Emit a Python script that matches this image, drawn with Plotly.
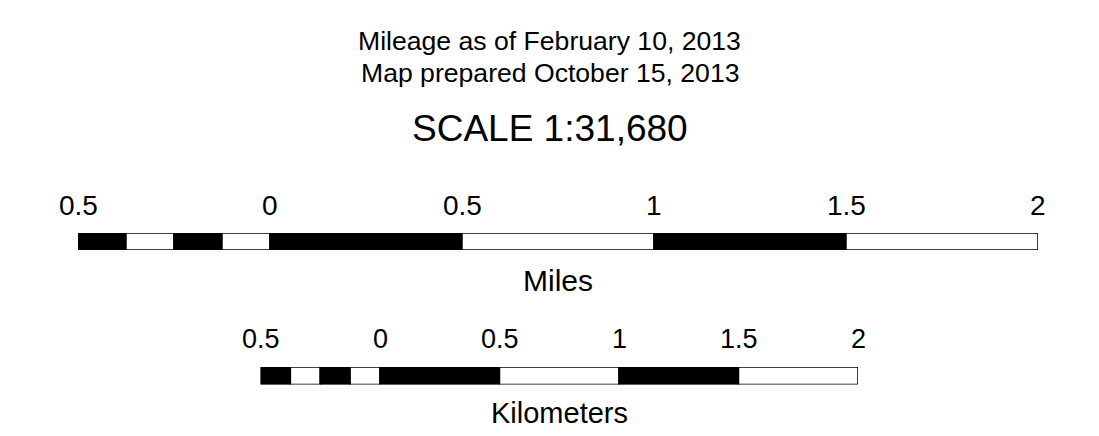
import plotly.graph_objects as go

# ---- data ----
mile_edges = [-0.5, -0.375, -0.25, -0.125, 0, 0.5, 1, 1.5, 2]
km_edges = [-0.5, -0.375, -0.25, -0.125, 0, 0.5, 1, 1.5, 2]
seg_colors = ["black", "white", "black", "white", "black", "white", "black", "white"]
tick_vals = [-0.5, 0, 0.5, 1, 1.5, 2]
tick_text = ["0.5", "0", "0.5", "1", "1.5", "2"]
title_lines = ["Mileage as of February 10, 2013", "Map prepared October 15, 2013"]
scale_text = "SCALE 1:31,680"
unit_names = ["Miles", "Kilometers"]

FONT = "Arial, Liberation Sans, Helvetica, sans-serif"
OFF = 8  # page body margin
W, H = 1099 - 2 * OFF, 436 - 2 * OFF


def px_x(p):
    return (p - OFF) / W


def py(p):
    return 1 - (p - OFF) / H


fig = go.Figure()

for edges, xa, ya in [(mile_edges, "x", "y"), (km_edges, "x2", "y2")]:
    starts = edges[:-1]
    widths = [b - a for a, b in zip(edges[:-1], edges[1:])]
    fig.add_trace(go.Bar(
        orientation="h", y=[0] * len(starts), x=widths, base=starts,
        width=1, marker=dict(color=seg_colors, line=dict(color="black", width=1.5)),
        xaxis=xa, yaxis=ya, showlegend=False, hoverinfo="skip",
    ))

fig.update_layout(
    width=W, height=H, margin=dict(l=0, r=0, t=0, b=0),
    paper_bgcolor="white", plot_bgcolor="white", barmode="overlay",
    xaxis=dict(domain=[px_x(78), px_x(1038)], range=[-0.5, 2], visible=False, anchor="y"),
    yaxis=dict(domain=[py(250), py(233)], range=[-0.5, 0.5], visible=False, anchor="x"),
    xaxis2=dict(domain=[px_x(260.5), px_x(858)], range=[-0.5, 2], visible=False, anchor="y2"),
    yaxis2=dict(domain=[py(384.5), py(367)], range=[-0.5, 0.5], visible=False, anchor="x2"),
)

ann = []
for v, t in zip(tick_vals, tick_text):
    ann.append(dict(x=v, xref="x", y=py(205), yref="paper", text=t, showarrow=False,
                    xanchor="center", yanchor="middle", font=dict(size=28, family=FONT, color="black")))
    ann.append(dict(x=v, xref="x2", y=py(339), yref="paper", text=t, showarrow=False,
                    xanchor="center", yanchor="middle", font=dict(size=27, family=FONT, color="black")))

ann.append(dict(x=0.75, xref="x", y=py(280), yref="paper", text=unit_names[0], showarrow=False,
                xanchor="center", yanchor="middle", font=dict(size=30, family=FONT, color="black")))
ann.append(dict(x=0.75, xref="x2", y=py(413), yref="paper", text=unit_names[1], showarrow=False,
                xanchor="center", yanchor="middle", height=30, valign="middle",
                font=dict(size=29, family=FONT, color="black")))

for i, line in enumerate(title_lines):
    ann.append(dict(x=0.5, xref="paper", y=py(41 + 32 * i), yref="paper", text=line, showarrow=False,
                    xanchor="center", yanchor="middle", font=dict(size=26.6, family=FONT, color="black")))
ann.append(dict(x=0.5, xref="paper", y=py(128), yref="paper", text=scale_text, showarrow=False,
                xanchor="center", yanchor="middle", font=dict(size=37, family=FONT, color="black")))

fig.update_layout(annotations=ann)
fig.write_html("out.html")
